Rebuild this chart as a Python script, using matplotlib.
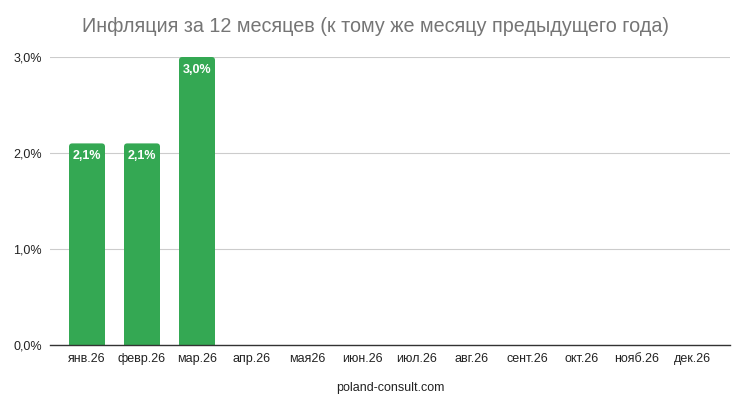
import matplotlib
matplotlib.use('Agg')
import matplotlib.pyplot as plt
from matplotlib.patches import FancyBboxPatch, Rectangle
from matplotlib.ticker import FuncFormatter

plt.rcParams['font.family'] = ['Liberation Sans', 'DejaVu Sans']

# данные
months = ['янв.26', 'февр.26', 'мар.26', 'апр.26', 'мая26', 'июн.26',
          'июл.26', 'авг.26', 'сент.26', 'окт.26', 'нояб.26', 'дек.26']
inflation = [2.1, 2.1, 3.0]
y_ticks = [0.0, 1.0, 2.0, 3.0]

title = 'Инфляция за 12 месяцев (к тому же месяцу предыдущего года)'
source = 'poland-consult.com'

green = '#34a853'

fig = plt.figure(figsize=(7.5, 4.09), dpi=100)
ax = fig.add_axes([50 / 750, 1 - 345 / 409, 680 / 750, 288 / 409])

x = list(range(len(months)))
bar_w = 36 / 55
r = 0.06
aspect = (3 / 288) / (1 / 55)
for i, v in enumerate(inflation):
    # скруглённый верх + прямоугольник снизу
    top = FancyBboxPatch((i - bar_w / 2, 0), bar_w, v,
                         boxstyle=f'round,pad=0,rounding_size={r}',
                         mutation_aspect=aspect,
                         facecolor=green, edgecolor='none', zorder=2,
                         clip_on=False)
    ax.add_patch(top)
    ax.add_patch(Rectangle((i - bar_w / 2, 0), bar_w, v / 2,
                           facecolor=green, edgecolor='none', zorder=2))
    ax.annotate(f'{v:.1f}%'.replace('.', ','), (i, v), xytext=(0, -5),
                textcoords='offset points', ha='center', va='top',
                color='white', fontsize=9, fontweight='bold', zorder=3)

ax.set_xlim(-0.5 - 9.5 / 55, len(months) - 0.5 + 10.5 / 55)
ax.set_ylim(0, 3.0)
ax.set_xticks(x)
ax.set_xticklabels(months)
ax.set_yticks(y_ticks)
ax.yaxis.set_major_formatter(FuncFormatter(lambda v, p: f'{v:.1f}%'.replace('.', ',')))
ax.tick_params(axis='both', length=0, labelsize=9, labelcolor='#222222')
ax.tick_params(axis='x', pad=6)
ax.tick_params(axis='y', pad=6)

ax.grid(axis='y', color='#cccccc', linewidth=0.8, zorder=0)
ax.set_axisbelow(True)
for s in ['top', 'right', 'left']:
    ax.spines[s].set_visible(False)
ax.spines['bottom'].set_color('#333333')
ax.spines['bottom'].set_linewidth(1.0)
ax.spines['bottom'].set_zorder(4)

ax.set_xlabel(source, fontsize=9, color='#222222', labelpad=12)
fig.text(0.5, 1 - 27 / 409, title, ha='center', va='center',
         fontsize=14.2, color='#757575')

fig.savefig('out.png', dpi=100)
